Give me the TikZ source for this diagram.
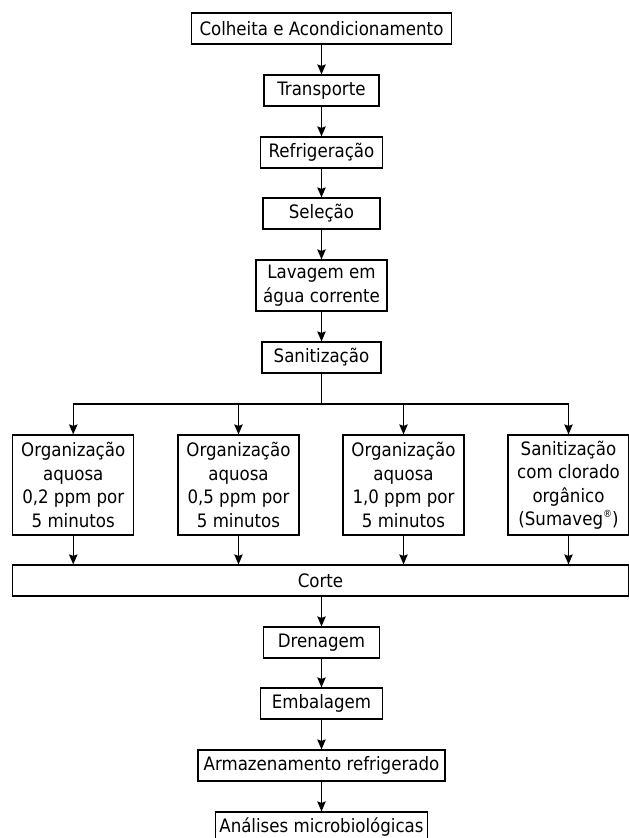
\documentclass[tikz,border=0pt]{standalone}
\usepackage{fontspec}
\setmainfont{DejaVu Sans Condensed}
\usetikzlibrary{arrows.meta}
\newcommand{\regmark}{\raisebox{0.45em}{\fontsize{10}{10}\selectfont ®}}
\begin{document}
\begin{tikzpicture}[x=1pt,y=-1pt,
  box/.style={draw, line width=1.2pt, inner sep=0pt, align=center,
    font=\fontsize{18.5}{23.5}\selectfont},
  arr/.style={line width=1.2pt, -{Stealth[length=10pt,width=8.5pt,inset=1.5pt]}},
  ln/.style={line width=1.2pt}]
\useasboundingbox (0,0) rectangle (629,838);
\clip (0,0) rectangle (629,838);
\node[box, minimum width=260pt, minimum height=31pt] (colh) at (321.5,28.5) {Colheita e Acondicionamento};
\node[box, minimum width=115pt, minimum height=31pt] (transp) at (321.5,90.5) {Transporte};
\node[box, minimum width=122pt, minimum height=31pt] (refr) at (321.5,152.5) {Refrigeração};
\node[box, minimum width=117pt, minimum height=31pt] (sel) at (321.5,213.5) {Seleção};
\node[box, minimum width=131pt, minimum height=51pt] (lav) at (321.5,285.5) {Lavagem em\\água corrente};
\node[box, minimum width=119pt, minimum height=31pt] (san) at (321.5,357.5) {Sanitização};
\coordinate (j) at (321.5,404);
\coordinate (j1) at (73.25,404);
\coordinate (j2) at (238.5,404);
\coordinate (j3) at (403.5,404);
\coordinate (j4) at (568.5,404);
\node[box, minimum width=121pt, minimum height=100pt] (o1) at (73.25,485) {Organização\\aquosa\\0,2 ppm por\\5 minutos};
\node[box, minimum width=121pt, minimum height=100pt] (o2) at (238.5,485) {Organização\\aquosa\\0,5 ppm por\\5 minutos};
\node[box, minimum width=121pt, minimum height=100pt] (o3) at (403.5,485) {Organização\\aquosa\\1,0 ppm por\\5 minutos};
\node[box, minimum width=121pt, minimum height=100pt] (o4) at (568.5,485) {Sanitização\\com clorado\\orgânico\\(Sumaveg\regmark)};
\node[box, minimum width=616pt, minimum height=31pt] (corte) at (320.5,580.5) {Corte};
\node[box, minimum width=116pt, minimum height=31pt] (dren) at (321.5,642.5) {Drenagem};
\node[box, minimum width=122pt, minimum height=31pt] (emb) at (321.5,703.5) {Embalagem};
\node[box, minimum width=247pt, minimum height=31pt] (arm) at (321.5,765.5) {Armazenamento refrigerado};
\node[box, minimum width=212pt, minimum height=31pt] (anal) at (321.5,827.5) {Análises microbiológicas};
\draw[arr] (colh) -- (transp);
\draw[arr] (transp) -- (refr);
\draw[arr] (refr) -- (sel);
\draw[arr] (sel) -- (lav);
\draw[arr] (lav) -- (san);
\draw[ln] (san) -- (j);
\draw[ln] (j1) -- (j4);
\draw[arr] (j1) -- (o1);
\draw[arr] (j2) -- (o2);
\draw[arr] (j3) -- (o3);
\draw[arr] (j4) -- (o4);
\draw[arr] (o1) -- (o1 |- corte.north);
\draw[arr] (o2) -- (o2 |- corte.north);
\draw[arr] (o3) -- (o3 |- corte.north);
\draw[arr] (o4) -- (o4 |- corte.north);
\draw[arr] (dren |- corte.south) -- (dren);
\draw[arr] (dren) -- (emb);
\draw[arr] (emb) -- (arm);
\draw[arr] (arm) -- (anal);
\end{tikzpicture}
\end{document}
